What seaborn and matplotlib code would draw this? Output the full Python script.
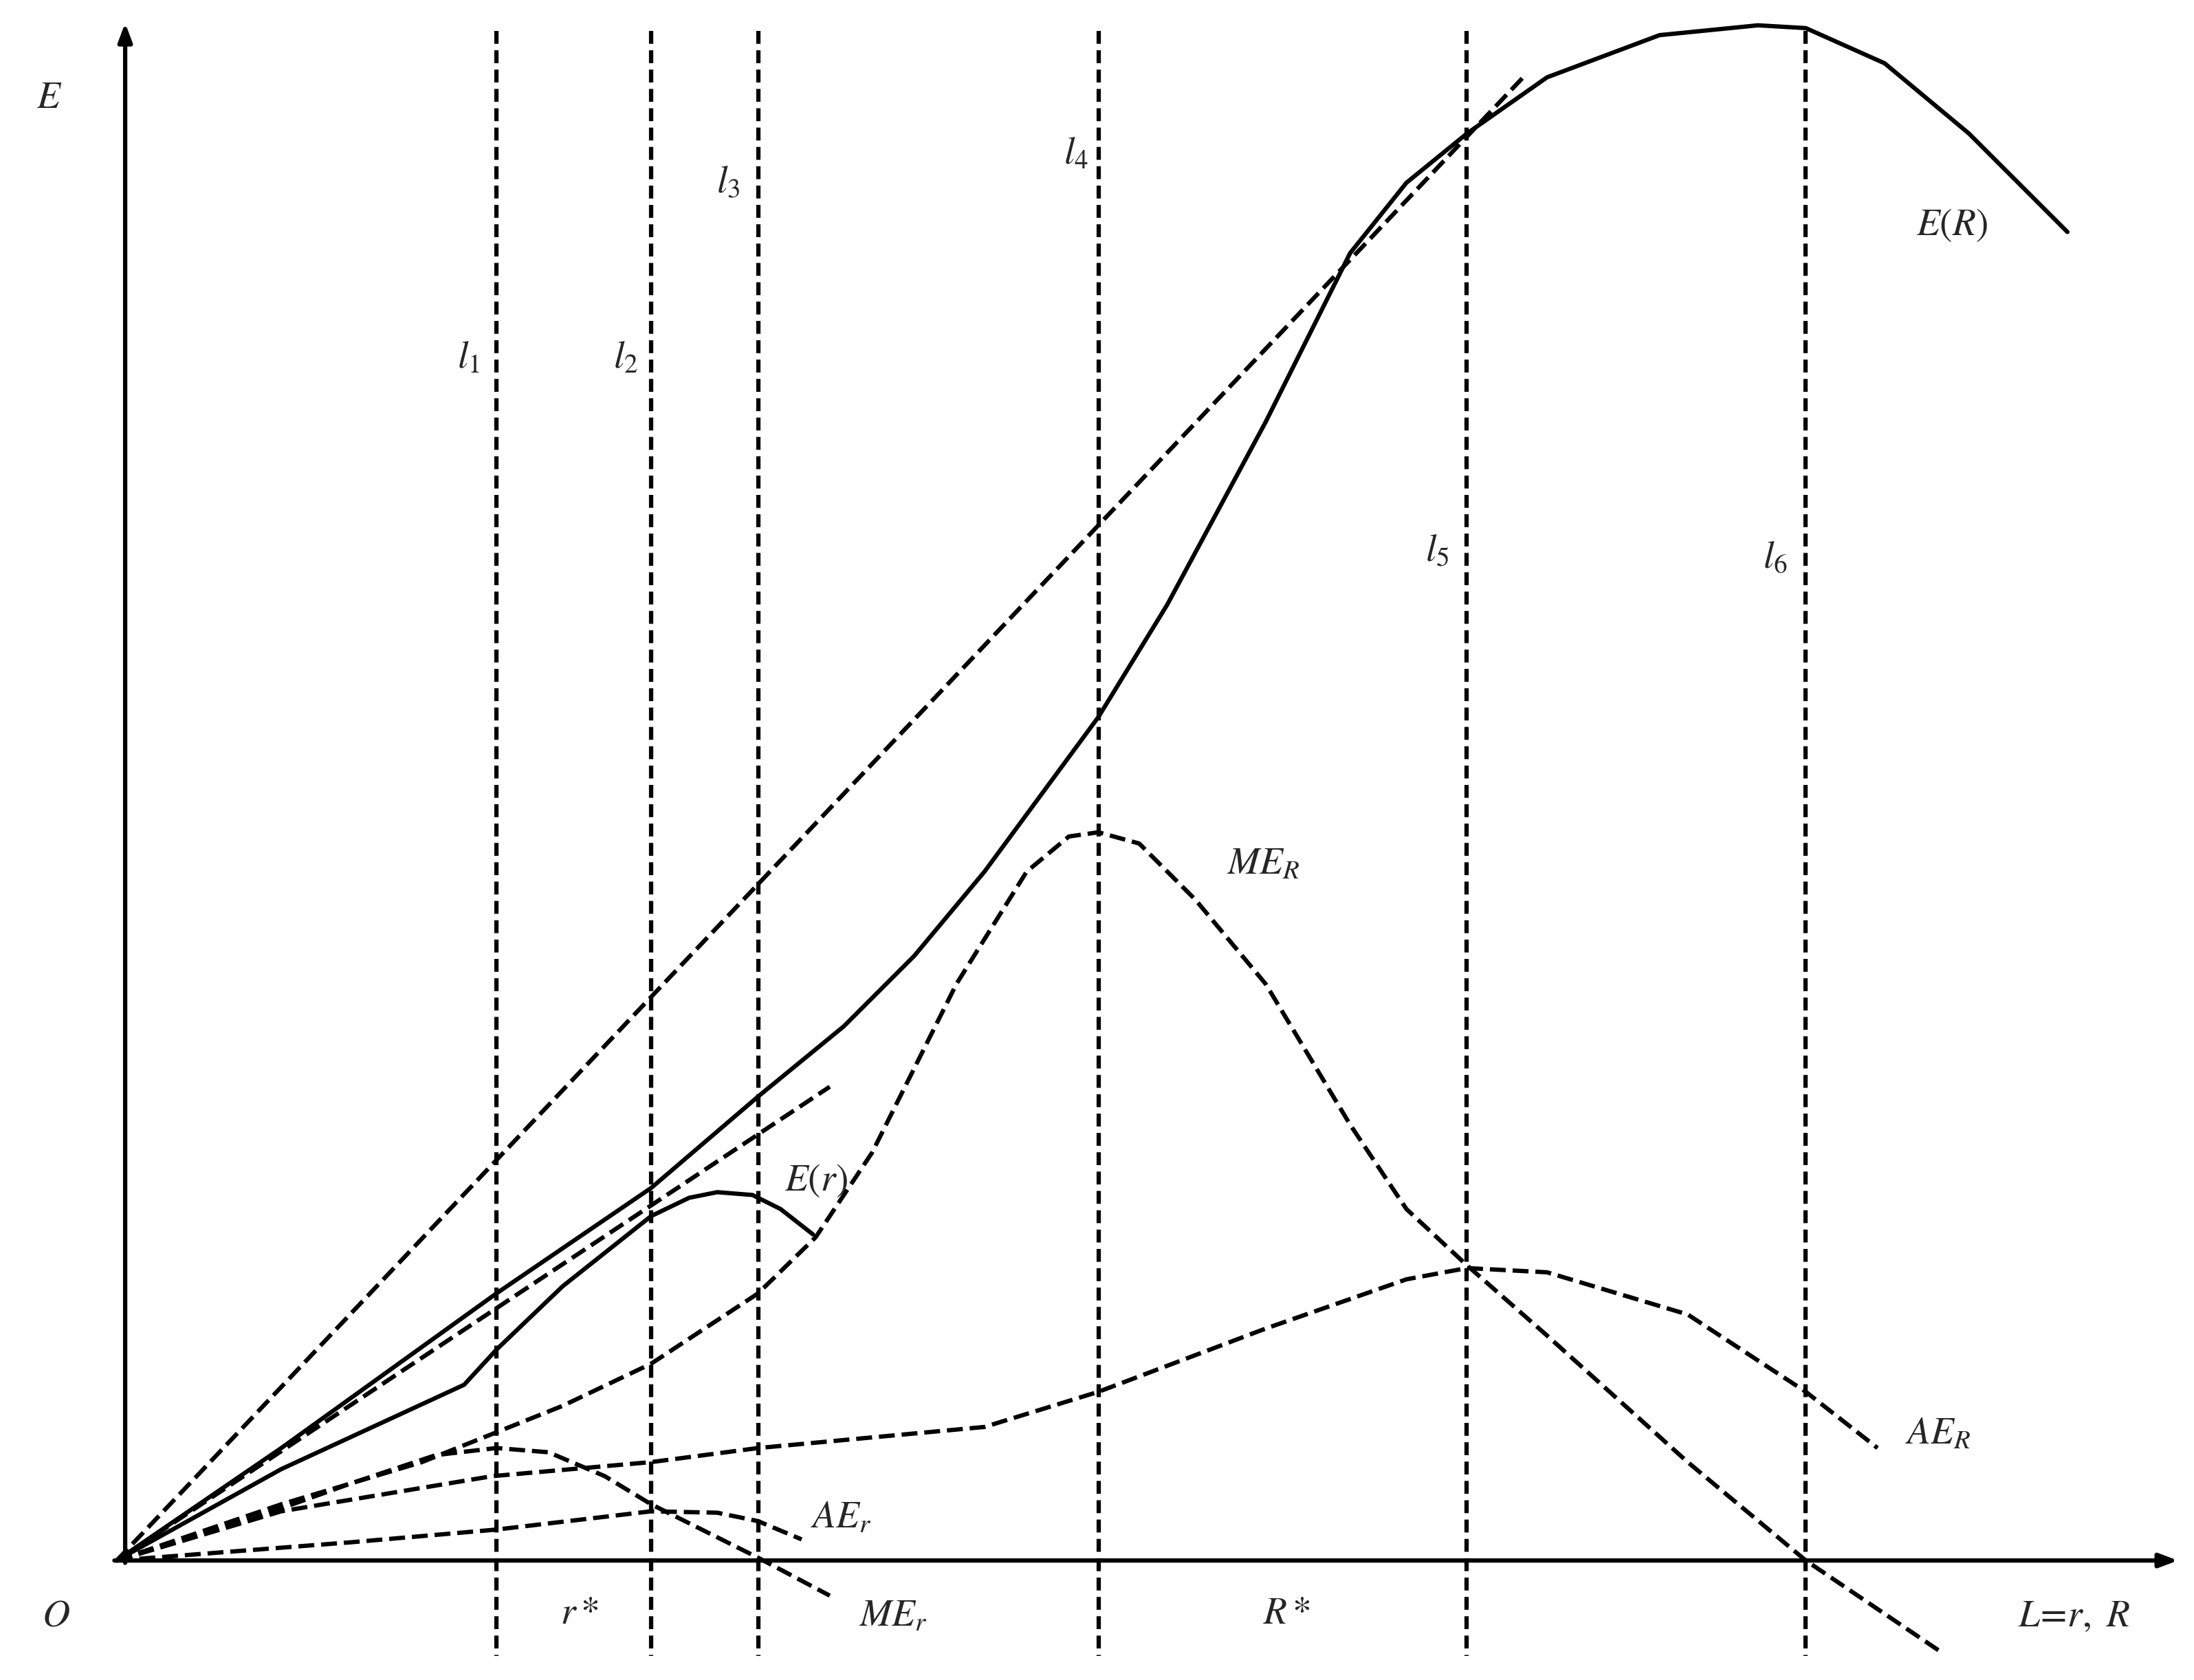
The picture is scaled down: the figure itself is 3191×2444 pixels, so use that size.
import matplotlib
matplotlib.use("Agg")
import matplotlib.pyplot as plt
import seaborn as sns
import pandas as pd

sns.set_style("white")
plt.rcParams['mathtext.fontset'] = 'stix'
plt.rcParams['font.family'] = ['Liberation Serif', 'DejaVu Serif']

# curve points (picture units, y grows downward)
er_big_x = [83, 200, 353, 463, 539, 600, 650, 700, 781, 830, 900, 960, 1000, 1043, 1100, 1180, 1250, 1284, 1340, 1400, 1470]
er_big_y = [1110, 1030, 920, 845, 780, 730, 680, 620, 510, 430, 300, 180, 130, 95, 55, 25, 18, 20, 45, 95, 165]
er_small_x = [83, 200, 330, 353, 400, 463, 490, 510, 535, 555, 578]
er_small_y = [1110, 1045, 985, 960, 915, 865, 852, 848, 850, 860, 878]
me_big_x = [83, 200, 300, 400, 463, 539, 580, 620, 680, 730, 760, 781, 810, 850, 900, 960, 1000, 1043, 1100, 1200, 1284, 1380]
me_big_y = [1110, 1070, 1040, 1000, 970, 920, 880, 820, 700, 620, 595, 592, 600, 640, 700, 800, 860, 900, 950, 1040, 1110, 1175]
ae_big_x = [83, 200, 350, 463, 539, 700, 781, 900, 1000, 1043, 1100, 1200, 1284, 1335]
ae_big_y = [1110, 1075, 1050, 1040, 1030, 1015, 990, 945, 910, 902, 905, 935, 990, 1030]
me_small_x = [83, 180, 250, 310, 353, 390, 430, 463, 539, 590]
me_small_y = [1110, 1080, 1055, 1035, 1030, 1033, 1050, 1070, 1108, 1135]
ae_small_x = [83, 250, 353, 463, 510, 539, 570]
ae_small_y = [1110, 1097, 1088, 1075, 1076, 1082, 1095]
ray1_x = [83, 1083]
ray1_y = [1110, 55]
ray2_x = [83, 590]
ray2_y = [1110, 773]
vlines_x = [353, 463, 539, 781, 1043, 1284]

fig = plt.figure(figsize=(31.91, 24.44), dpi=100)
ax = fig.add_axes([0, 0, 1, 1])
ax.set_xlim(0, 1560)
ax.set_ylim(1195, 0)
ax.axis('off')

lw = 4.5
dash = (3, 1.5)

def curve(xs, ys, dashed):
    d = pd.DataFrame({'x': xs, 'y': ys})
    sns.lineplot(data=d, x='x', y='y', ax=ax, sort=False, estimator=None,
                 color='black', linewidth=lw,
                 linestyle='--' if dashed else '-',
                 **({'dashes': dash} if dashed else {}))

curve(er_big_x, er_big_y, False)
curve(er_small_x, er_small_y, False)
curve(me_big_x, me_big_y, True)
curve(ae_big_x, ae_big_y, True)
curve(me_small_x, me_small_y, True)
curve(ae_small_x, ae_small_y, True)
curve(ray1_x, ray1_y, True)
curve(ray2_x, ray2_y, True)
for x in vlines_x:
    ax.plot([x, x], [22, 1178], color='black', lw=lw, dashes=dash)

# axes with arrows
ax.annotate('', xy=(1550, 1110), xytext=(80, 1110),
            arrowprops=dict(arrowstyle='-|>,head_length=1.6,head_width=0.6', color='black', lw=lw))
ax.annotate('', xy=(89, 15), xytext=(89, 1113),
            arrowprops=dict(arrowstyle='-|>,head_length=1.6,head_width=0.6', color='black', lw=lw))

fs = 40
labels = [
    (35, 70, '$E$'), (40, 1150, '$O$'), (1475, 1150, '$L\\!=\\!r,\\ R$'),
    (333, 255, '$l_1$'), (445, 255, '$l_2$'), (518, 130, '$l_3$'), (765, 110, '$l_4$'),
    (1022, 392, '$l_5$'), (1262, 397, '$l_6$'),
    (1388, 160, '$E(R)$'), (580, 840, '$E(r)$'), (898, 615, '$ME_R$'),
    (1378, 1020, '$AE_R$'), (598, 1080, '$AE_r$'), (635, 1150, '$ME_r$'),
    (412, 1148, '$r*$'), (915, 1148, '$R*$'),
]
for x, y, t in labels:
    ax.text(x, y, t, fontsize=fs, ha='center', va='center')

fig.savefig('out.png', dpi=100, facecolor='white')
